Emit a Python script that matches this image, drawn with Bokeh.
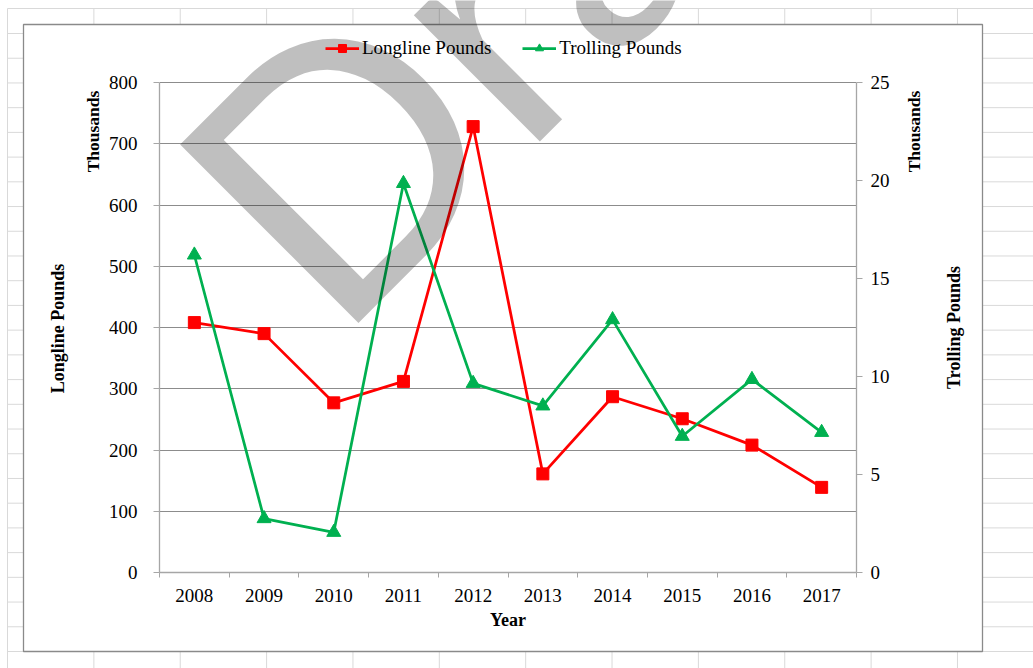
import math
from bokeh.plotting import figure
from bokeh.layouts import column
from bokeh.models import (Range1d, LinearAxis, FixedTicker, Legend, LegendItem,
                          ColumnDataSource, Label)
from bokeh.embed import file_html
from bokeh.resources import INLINE
from bokeh.core.properties import value

# ---------------- data (thousands of pounds) ----------------
years = [2008, 2009, 2010, 2011, 2012, 2013, 2014, 2015, 2016, 2017]
longline_thousands = [408, 390, 277, 312, 728, 161, 287, 251, 208, 139]
trolling_thousands = [16.2, 2.75, 2.05, 19.85, 9.65, 8.5, 12.9, 6.95, 9.85, 7.15]
left_ticks = [0, 100, 200, 300, 400, 500, 600, 700, 800]
right_ticks = [0, 5, 10, 15, 20, 25]
series_names = ["Longline Pounds", "Trolling Pounds"]
x_title = "Year"
units_label = "Thousands"
watermark = "Draft"

W, H = 1033, 668
SERIF = "Liberation Serif"
RED = "#ff0000"
GREEN = "#00b050"
AXIS = "#a6a6a6"
GRID = "#8c8c8c"

# page layout (pixels from the window's top-left corner)
PLOT_L, PLOT_R, PLOT_T, PLOT_B = 159, 856, 82, 572
FRAME_T = 0          # chart frame reaches the top of the canvas (room for legend/watermark)
stretch = (PLOT_B - FRAME_T) / (PLOT_B - PLOT_T)

# ---------------- chart figure ----------------
p = figure(width=W, height=H, output_backend="svg", toolbar_location=None,
           x_range=Range1d(years[0] - 0.5, years[-1] + 0.5),
           y_range=Range1d(left_ticks[0], left_ticks[-1] * stretch),
           min_border_left=PLOT_L, min_border_right=W - PLOT_R,
           min_border_top=FRAME_T, min_border_bottom=H - PLOT_B,
           background_fill_color=None, border_fill_color=None,
           outline_line_color=None)
p.extra_y_ranges = {"troll": Range1d(right_ticks[0], right_ticks[-1] * stretch)}

xa = p.xaxis[0]
xa.ticker = FixedTicker(ticks=years, minor_ticks=[y - 0.5 for y in years] + [years[-1] + 0.5])
xa.major_tick_out = 0
xa.major_tick_in = 0
xa.minor_tick_out = 5
xa.minor_tick_in = 0
xa.minor_tick_line_color = AXIS
xa.axis_line_color = AXIS
xa.axis_line_width = 1.3
xa.major_label_text_font = SERIF
xa.major_label_text_font_size = "19px"
xa.major_label_text_color = "black"
xa.major_label_standoff = 11
xa.axis_label = x_title
xa.axis_label_text_font = SERIF
xa.axis_label_text_font_size = "18px"
xa.axis_label_text_font_style = "bold"
xa.axis_label_text_color = "black"
xa.axis_label_standoff = 5
p.xgrid.visible = False

ya = p.yaxis[0]
ya.ticker = FixedTicker(ticks=left_ticks)
ya.bounds = (left_ticks[0], left_ticks[-1])
ya.major_tick_out = 6
ya.major_tick_in = 0
ya.minor_tick_line_color = None
ya.major_tick_line_color = AXIS
ya.axis_line_color = AXIS
ya.axis_line_width = 1.3
ya.major_label_text_font = SERIF
ya.major_label_text_font_size = "19px"
ya.major_label_text_color = "black"
ya.major_label_standoff = 16
p.ygrid.ticker = FixedTicker(ticks=left_ticks)
p.ygrid.grid_line_color = GRID
p.ygrid.grid_line_width = 1

ra = LinearAxis(y_range_name="troll", ticker=FixedTicker(ticks=right_ticks))
ra.bounds = (right_ticks[0], right_ticks[-1])
ra.major_tick_out = 6
ra.major_tick_in = 0
ra.minor_tick_line_color = None
ra.major_tick_line_color = AXIS
ra.axis_line_color = AXIS
ra.axis_line_width = 1.3
ra.major_label_text_font = SERIF
ra.major_label_text_font_size = "19px"
ra.major_label_text_color = "black"
ra.major_label_standoff = 8
p.add_layout(ra, "right")

src = ColumnDataSource(dict(year=years, ll=longline_thousands, tr=trolling_thousands))
l1 = p.line("year", "ll", source=src, line_color=RED, line_width=2.75)
s1 = p.scatter("year", "ll", source=src, marker="square", size=12,
               fill_color=RED, line_color=RED)
l2 = p.line("year", "tr", source=src, line_color=GREEN, line_width=2.75,
            y_range_name="troll")
s2 = p.scatter("year", "tr", source=src, marker="triangle", size=14,
               fill_color=GREEN, line_color=GREEN, y_range_name="troll")

legend = Legend(items=[LegendItem(label=series_names[0], renderers=[l1, s1]),
                       LegendItem(label=series_names[1], renderers=[l2, s2])],
                orientation="horizontal", location=(325 - PLOT_L, PLOT_B - 59),
                border_line_color=None, background_fill_alpha=0,
                label_text_font=SERIF, label_text_font_size="19px",
                label_text_color="black", glyph_width=34, glyph_height=20,
                label_standoff=3, spacing=31, padding=0, margin=0)
p.add_layout(legend, "center")

# watermark on top of everything in the chart
p.add_layout(Label(x=80, y=323, x_units="screen", y_units="screen",
                   text=watermark, angle=math.pi / 4, text_align="left",
                   text_baseline="alphabetic", text_font="Lato",
                   text_font_size="352px", text_color="black", text_alpha=0.25))

# ---------------- background: sheet grid, chart box, axis titles ----------------
bg = figure(width=W, height=H, output_backend="svg", toolbar_location=None,
            x_range=Range1d(0, W), y_range=Range1d(0, H),
            x_axis_type=None, y_axis_type=None, min_border=0,
            min_border_left=0, min_border_right=0, min_border_top=0, min_border_bottom=0,
            background_fill_color="white", border_fill_color="white",
            outline_line_color=None)
bg.grid.visible = False

def X(px):
    return px

def Y(py):
    return H - py

box_l, box_t, box_r, box_b = 23, 24, 982, 651
rows = [8] + [33 + 24.72 * k for k in range(26)]
cols = [7 + 86.36 * j for j in range(12)]
x0 = [X(7)] * len(rows) + [X(c) for c in cols]
x1 = [X(W)] * len(rows) + [X(c) for c in cols]
y0 = [Y(r) for r in rows] + [Y(8)] * len(cols)
y1 = [Y(r) for r in rows] + [Y(H)] * len(cols)
bg.segment(x0, y0, x1, y1, line_color="#d9d9d9", line_width=1)
bg.quad(left=[X(box_l)], right=[X(box_r)], top=[Y(box_t)], bottom=[Y(box_b)],
        fill_color="white", line_color="#8a8a8a", line_width=1.3)

bg.text(x=[X(92.5), X(913)], y=[Y(131), Y(131)], text=[units_label, units_label],
        angle=math.pi / 2, text_align="center", text_baseline="middle",
        text_font=value(SERIF), text_font_size="17.5px", text_font_style="bold",
        text_color="black")
bg.text(x=[X(57), X(953)], y=[Y(328), Y(327)], text=series_names,
        angle=math.pi / 2, text_align="center", text_baseline="middle",
        text_font=value(SERIF), text_font_size="18px", text_font_style="bold",
        text_color="black")

for f in (p, bg):
    if "frame_align" in f.properties():
        f.frame_align = False
p.margin = (-H, 0, 0, 0)

layout = column(bg, p)
open("out.html", "w").write(file_html(layout, INLINE))
